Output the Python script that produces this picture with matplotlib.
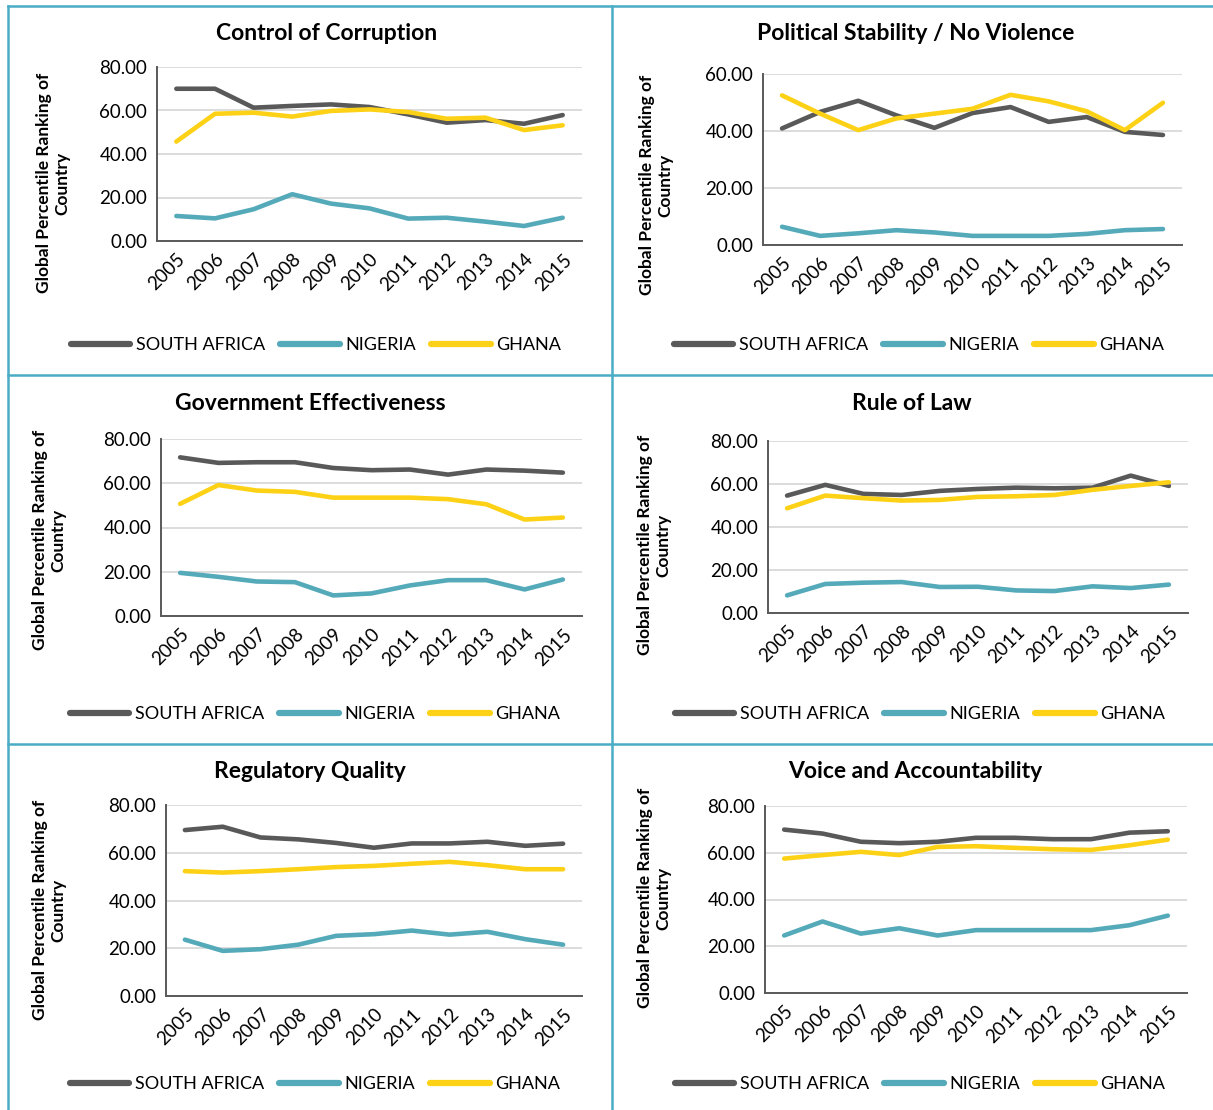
import matplotlib
matplotlib.use("Agg")
import matplotlib.pyplot as plt
from matplotlib.lines import Line2D

plt.rcParams['font.family'] = ['Lato', 'DejaVu Sans']

years = ['2005', '2006', '2007', '2008', '2009', '2010', '2011', '2012', '2013', '2014', '2015']
countries = ['SOUTH AFRICA', 'NIGERIA', 'GHANA']
colors = ['#595959', '#55AABA', '#FCD116']

titles = ['Control of Corruption', 'Political Stability / No Violence',
          'Government Effectiveness', 'Rule of Law',
          'Regulatory Quality', 'Voice and Accountability']

ymax = [80, 60, 80, 80, 80, 80]

cc_sa = [70.0, 70.0, 61.3, 62.1, 62.8, 61.6, 58.2, 54.4, 55.6, 53.9, 57.9]
cc_ng = [11.5, 10.4, 14.6, 21.5, 17.2, 15.0, 10.3, 10.7, 8.9, 6.9, 10.7]
cc_gh = [45.7, 58.5, 59.0, 57.2, 59.8, 60.5, 59.3, 56.2, 56.7, 51.0, 53.2]

ps_sa = [40.9, 46.7, 50.6, 45.5, 41.1, 46.3, 48.4, 43.2, 44.9, 39.7, 38.6]
ps_ng = [6.4, 3.2, 4.1, 5.2, 4.4, 3.2, 3.2, 3.2, 3.9, 5.2, 5.6]
ps_gh = [52.5, 46.1, 40.3, 44.4, 46.1, 47.8, 52.7, 50.4, 46.9, 40.3, 49.9]

ge_sa = [71.7, 69.2, 69.5, 69.5, 66.9, 65.9, 66.2, 63.9, 66.2, 65.7, 64.8]
ge_ng = [19.5, 17.7, 15.6, 15.3, 9.3, 10.2, 13.8, 16.2, 16.2, 12.0, 16.5]
ge_gh = [50.7, 59.2, 56.7, 56.1, 53.5, 53.5, 53.5, 52.8, 50.5, 43.6, 44.5]

rl_sa = [54.6, 59.6, 55.4, 54.9, 56.8, 57.7, 58.3, 58.0, 58.3, 63.9, 59.1]
rl_ng = [8.2, 13.5, 14.1, 14.4, 12.1, 12.2, 10.5, 10.2, 12.4, 11.6, 13.2]
rl_gh = [48.7, 54.6, 53.4, 52.3, 52.6, 54.0, 54.3, 54.9, 57.3, 59.1, 60.8]

rq_sa = [69.5, 70.9, 66.4, 65.6, 64.1, 62.1, 63.9, 63.9, 64.6, 62.9, 63.8]
rq_ng = [23.6, 18.9, 19.6, 21.5, 25.2, 25.9, 27.4, 25.7, 26.9, 23.8, 21.5]
rq_gh = [52.3, 51.7, 52.3, 53.1, 54.0, 54.5, 55.4, 56.2, 54.8, 53.1, 53.1]

va_sa = [69.9, 68.2, 64.7, 64.1, 64.7, 66.4, 66.4, 65.8, 65.8, 68.6, 69.2]
va_ng = [24.6, 30.6, 25.4, 27.7, 24.6, 26.9, 26.9, 26.9, 26.9, 29.0, 33.1]
va_gh = [57.5, 59.0, 60.4, 59.0, 62.5, 62.8, 62.1, 61.5, 61.2, 63.2, 65.6]

panels = [
    (cc_sa, cc_ng, cc_gh), (ps_sa, ps_ng, ps_gh),
    (ge_sa, ge_ng, ge_gh), (rl_sa, rl_ng, rl_gh),
    (rq_sa, rq_ng, rq_gh), (va_sa, va_ng, va_gh),
]

W, H = 1213, 1110
fig = plt.figure(figsize=(W / 100, H / 100), dpi=100)

# layout in pixels: axes (left, right, top, bottom), title (x, y), ylabel (x, y), legend (x, y)
boxes = [(157, 582, 67, 241), (763, 1182, 74, 245),
         (161, 582, 439, 616), (768, 1188, 441, 613),
         (166, 582, 805, 996), (765, 1187, 806, 993)]
title_pos = [(327, 34), (916, 34), (310, 403), (912, 403), (310, 772), (915, 772)]
ylab_pos = [(53, 183), (656, 185), (49, 540), (654, 545), (49, 910), (654, 898)]
leg_pos = [(316, 345), (919, 345), (315, 714), (920, 714), (315, 1084), (920, 1084)]

x = list(range(len(years)))
for i, (series, box) in enumerate(zip(panels, boxes)):
    l, r, t, b = box
    ax = fig.add_axes([l / W, 1 - b / H, (r - l) / W, (b - t) / H])
    for vals, c, name in zip(series, colors, countries):
        ax.plot(x, vals, color=c, lw=3.3, solid_capstyle='round',
                solid_joinstyle='round', label=name)
    ax.set_xlim(-0.5, len(years) - 0.5)
    ax.set_ylim(0, ymax[i])
    ax.set_yticks(range(0, ymax[i] + 1, 20))
    ax.set_yticklabels([f"{v:.2f}" for v in range(0, ymax[i] + 1, 20)], fontsize=13.5)
    ax.set_xticks(x)
    ax.set_xticklabels(years, rotation=45, ha='right', va='top', rotation_mode='anchor',
                       fontsize=13.5)
    ax.tick_params(length=0, pad=7, colors='#000000')
    ax.grid(axis='y', color='#D9D9D9', lw=1.3)
    ax.set_axisbelow(True)
    for s in ['top', 'right']:
        ax.spines[s].set_visible(False)
    for s in ['left', 'bottom']:
        ax.spines[s].set_color('#595959')
        ax.spines[s].set_linewidth(1.4)
    ax.set_facecolor('none')

    tx, ty = title_pos[i]
    fig.text(tx / W, 1 - ty / H, titles[i], ha='center', va='center',
             fontsize=16.5, fontweight='bold')
    yx, yy = ylab_pos[i]
    fig.text(yx / W, 1 - yy / H, 'Global Percentile Ranking of\nCountry', rotation=90,
             ha='center', va='center', multialignment='center', fontsize=12.5,
             fontweight='bold', linespacing=1.2)
    lx, ly = leg_pos[i]
    handles = [Line2D([0], [0], color=c, lw=4.5, solid_capstyle='round') for c in colors]
    fig.legend(handles, countries, loc='center', bbox_to_anchor=(lx / W, 1 - ly / H),
               ncol=3, frameon=False, fontsize=13, handlelength=3.3,
               handletextpad=0.3, columnspacing=0.85, borderpad=0, borderaxespad=0)

# panel borders
bc = '#4BACC6'
fig.add_artist(Line2D([8 / W, 8 / W], [0, 1 - 6 / H], color=bc, lw=1.8))
fig.add_artist(Line2D([612 / W, 612 / W], [0, 1 - 6 / H], color=bc, lw=1.8))
fig.add_artist(Line2D([8 / W, 1], [1 - 6 / H, 1 - 6 / H], color=bc, lw=1.8))
fig.add_artist(Line2D([8 / W, 1], [1 - 375 / H, 1 - 375 / H], color=bc, lw=1.8))
fig.add_artist(Line2D([8 / W, 1], [1 - 744 / H, 1 - 744 / H], color=bc, lw=1.8))

fig.savefig('out.png', dpi=100)
